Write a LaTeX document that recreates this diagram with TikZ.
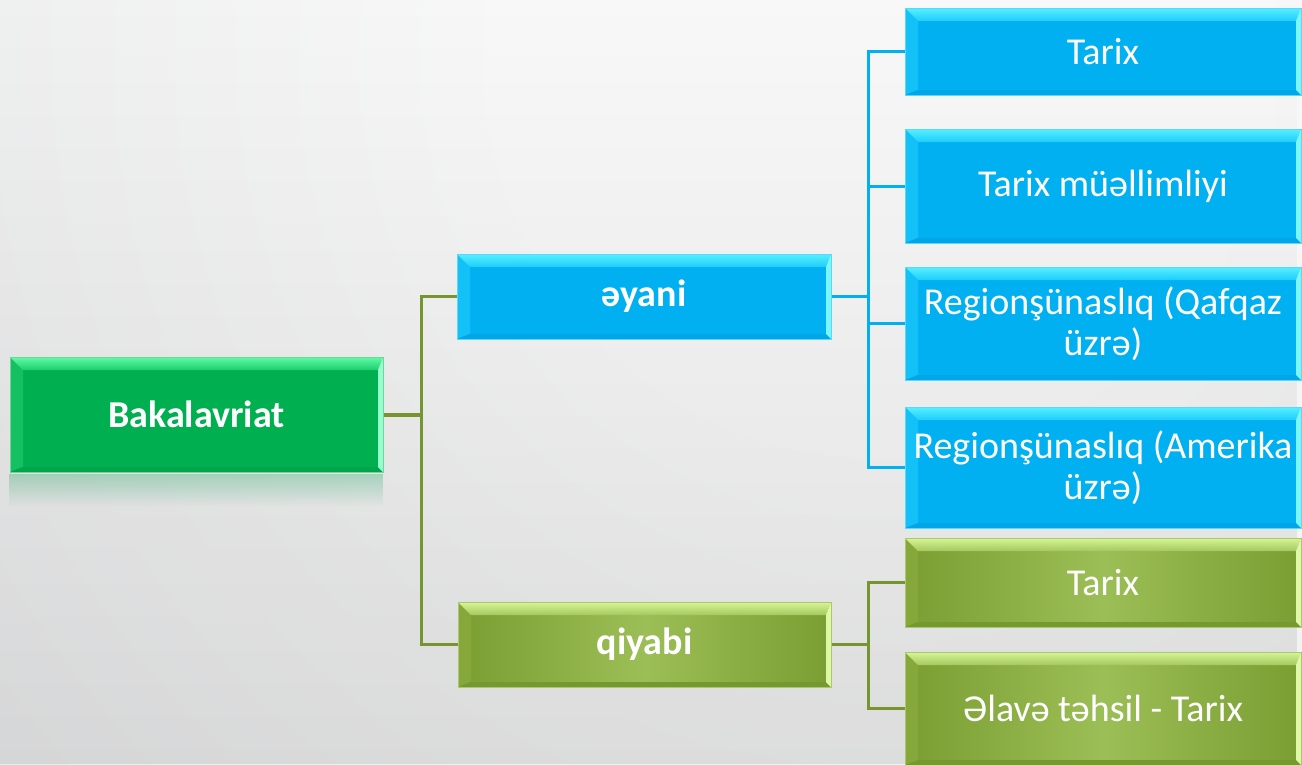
\documentclass[tikz,border=0pt]{standalone}
\usepackage{fontspec}
\setmainfont{Carlito}
\usetikzlibrary{fadings}
\definecolor{bgin}{RGB}{248,248,248}
\definecolor{bgmid}{RGB}{232,233,234}
\definecolor{bgout}{RGB}{190,192,194}
\definecolor{cBlue}{RGB}{0,176,240}
\definecolor{cBlueT}{RGB}{85,240,255}
\definecolor{cBlueT2}{RGB}{30,205,250}
\definecolor{cBlueL}{RGB}{20,192,248}
\definecolor{cBlueR}{RGB}{125,245,255}
\definecolor{cBlueB}{RGB}{0,166,232}
\definecolor{cBlueE}{RGB}{90,215,250}
\definecolor{cGrn}{RGB}{0,176,80}
\definecolor{cGrnT}{RGB}{95,252,165}
\definecolor{cGrnT2}{RGB}{30,205,110}
\definecolor{cGrnL}{RGB}{20,192,98}
\definecolor{cGrnR}{RGB}{150,255,205}
\definecolor{cGrnB}{RGB}{0,164,74}
\definecolor{cGrnE}{RGB}{110,215,150}
\definecolor{cOlD}{RGB}{122,158,50}
\definecolor{cOlM}{RGB}{156,190,86}
\definecolor{cOlT}{RGB}{215,245,150}
\definecolor{cOlT2}{RGB}{165,200,95}
\definecolor{cOlL}{RGB}{134,168,58}
\definecolor{cOlR}{RGB}{222,248,168}
\definecolor{cOlB}{RGB}{118,152,48}
\definecolor{cOlE}{RGB}{170,200,110}
\definecolor{cLineG}{RGB}{118,148,48}
\definecolor{cRefl}{RGB}{0,160,80}
\pgfdeclareradialshading{bgshade}{\pgfpoint{0bp}{0bp}}{color(0bp)=(bgin); color(4bp)=(bgin); color(14bp)=(bgmid); color(25bp)=(bgout); color(50bp)=(bgout)}
\newcommand\drawbevel[5]{%
  \coordinate (NW) at (path picture bounding box.north west);
  \coordinate (NE) at (path picture bounding box.north east);
  \coordinate (SW) at (path picture bounding box.south west);
  \coordinate (SE) at (path picture bounding box.south east);
  \fill[#3] (NW) -- ([shift={(13pt,-13pt)}]NW) -- ([shift={(13pt,5pt)}]SW) -- (SW) -- cycle;
  \fill[#5] (SW) -- ([shift={(13pt,5pt)}]SW) -- ([shift={(-5pt,5pt)}]SE) -- (SE) -- cycle;
  \shade[top color=#1, bottom color=#2] (NW) -- (NE) -- ([shift={(-5pt,-13pt)}]NE) -- ([shift={(13pt,-13pt)}]NW) -- cycle;
  \fill[#4] (NE) -- ([shift={(-5pt,-13pt)}]NE) -- ([shift={(-5pt,5pt)}]SE) -- (SE) -- cycle;
}
\tikzset{
  basebox/.style={inner sep=2pt, align=center, text=white,
    font=\fontsize{38}{41}\selectfont, line width=1pt},
  bluebox/.style={basebox, fill=cBlue, draw=cBlueE,
    path picture={\drawbevel{cBlueT}{cBlueT2}{cBlueL}{cBlueR}{cBlueB}}},
  grnbox/.style={basebox, fill=cGrn, draw=cGrnE,
    path picture={\drawbevel{cGrnT}{cGrnT2}{cGrnL}{cGrnR}{cGrnB}}},
  olbox/.style={basebox, left color=cOlD, right color=cOlD, middle color=cOlM, draw=cOlE,
    path picture={\drawbevel{cOlT}{cOlT2}{cOlL}{cOlR}{cOlB}}},
  boldtext/.style={font=\fontsize{38}{41}\selectfont\bfseries},
  bline/.style={draw=cBlue, line width=3pt},
  gline/.style={draw=cLineG, line width=3pt},
  gthick/.style={draw=cLineG, line width=4pt}
}
\begin{document}
\begin{tikzpicture}[x=1pt,y=-1pt]
\useasboundingbox (0,0) rectangle (1302,764);
\begin{scope}
  \clip (0,0) rectangle (1302,764);
  \shade[shading=bgshade] (880,60) circle[radius=2300pt];
  \fill[black, path fading=north, opacity=0.09] (0,0) rectangle (1302,764);
\end{scope}

% level 0
\node[grnbox, boldtext, minimum width=373pt, minimum height=115pt] (bak) at (196.5,414.5) {Bakalavriat};
\fill[cRefl, path fading=south, opacity=0.28] ([yshift=-1pt]bak.south west) rectangle ([yshift=-34pt]bak.south east);

% level 1
\node[bluebox, boldtext, minimum width=374pt, minimum height=85pt] (ayani) at (644,296.5) {əyani};
\node[olbox, boldtext, minimum width=373pt, minimum height=85pt] (qiyabi) at (644.5,644.5) {qiyabi};

% level 2
\node[bluebox, minimum width=396pt, minimum height=87pt] (t1) at (1103,51.5) {Tarix};
\node[bluebox, minimum width=396pt, minimum height=114pt] (tm) at (1103,186) {Tarix müəllimliyi};
\node[bluebox, minimum width=396pt, minimum height=113pt] (qa) at (1103,323.5) {Regionşünaslıq (Qafqaz\\üzrə)};
\node[bluebox, minimum width=396pt, minimum height=121pt] (am) at (1103,467.5) {Regionşünaslıq (Amerika\\üzrə)};
\node[olbox, minimum width=396pt, minimum height=89pt] (t2) at (1103,582.5) {Tarix};
\node[olbox, minimum width=396pt, minimum height=113pt] (el) at (1103,708.5) {Əlavə təhsil - Tarix};

% connectors
\coordinate (tr) at (421,414.5);
\coordinate (bx) at (868,296.5);
\coordinate (gx) at (868,644.5);
\draw[gthick] (bak.east) -- (tr);
\draw[gline] (ayani.west) -| (tr) |- (qiyabi.west);
\draw[bline] (ayani.east) -- (bx);
\draw[bline] (t1.west) -| (bx) |- (am.west);
\draw[bline] (tm.west) -- (tm.west -| bx);
\draw[bline] (qa.west) -- (qa.west -| bx);
\draw[gline] (qiyabi.east) -- (gx);
\draw[gline] (t2.west) -| (gx) |- (el.west);
\end{tikzpicture}
\end{document}
